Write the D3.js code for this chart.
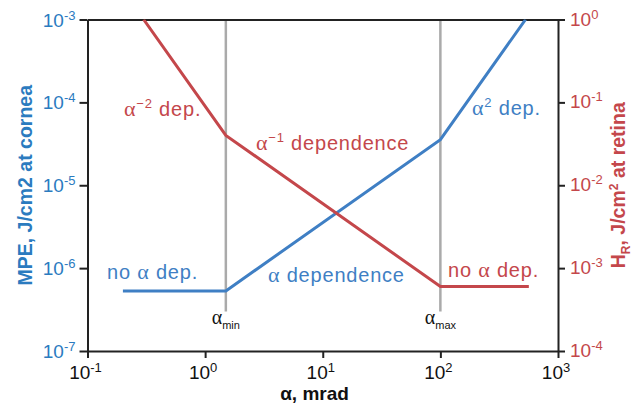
<!DOCTYPE html>
<html>
<head>
<meta charset="utf-8">
<script src="https://cdn.jsdelivr.net/npm/d3@7"></script>
<style>
  body { margin: 0; background: #fff; }
  svg { font-family: "Liberation Sans", Arial, sans-serif; }
</style>
</head>
<body>
<div id="chart"></div>
<script>
// tick values
var xTicks = [0.1, 1, 10, 100, 1000];
var mpeTicks = [1e-7, 1e-6, 1e-5, 1e-4, 1e-3];
var hrTicks = [1e-4, 1e-3, 1e-2, 1e-1, 1];

// alpha_min and alpha_max (mrad)
var alphaLimits = [1.5, 100];
var alphaLimitNames = ["min", "max"];

// MPE at cornea (left axis)
var mpeAlpha = [0.2, 1.5, 100, 530];
var mpeValues = [5.3e-7, 5.3e-7, 3.55e-5, 1e-3];

// H_R at retina (right axis)
var hrAlpha = [0.3, 1.5, 100, 565];
var hrValues = [1, 0.04, 6e-4, 6e-4];

var blue = "#3f7fc4", red = "#c4474b";
var blueText = "#2b7bbf", redText = "#c4474b";

var W = 634, H = 406;
var margin = {top: 19.5, right: 76, bottom: 55, left: 87.5},
    width = W - margin.left - margin.right,
    height = H - margin.top - margin.bottom;

var x = d3.scaleLog().domain([0.1, 1000]).range([0, width]);
var yL = d3.scaleLog().domain([1e-7, 1e-3]).range([height, 0]);
var yR = d3.scaleLog().domain([1e-4, 1]).range([height, 0]);

var svg = d3.select("#chart").append("svg")
    .attr("width", W)
    .attr("height", H)
    .append("g")
    .attr("transform", "translate(" + margin.left + "," + margin.top + ")");

function powLabel(sel, v) {
    var e = Math.round(Math.log10(v));
    sel.append("tspan").text("10");
    sel.append("tspan")
        .attr("dy", -7)
        .style("font-size", "13px")
        .text(e);
}

// vertical alpha limit lines
svg.selectAll(".limit")
    .data(alphaLimits)
    .enter().append("line")
    .attr("class", "limit")
    .attr("x1", function(d) { return x(d); })
    .attr("x2", function(d) { return x(d); })
    .attr("y1", 0)
    .attr("y2", 292)
    .attr("stroke", "#aaaaaa")
    .attr("stroke-width", 2.5);

svg.selectAll(".limitLabel")
    .data(alphaLimits)
    .enter().append("text")
    .attr("class", "limitLabel")
    .attr("x", function(d) { return x(d); })
    .attr("y", 304)
    .attr("text-anchor", "middle")
    .attr("fill", "#111")
    .each(function(d, i) {
        var t = d3.select(this);
        t.append("tspan").style("font-family", "'Liberation Serif', serif").style("font-size", "20px").text("α");
        t.append("tspan").attr("dy", 5).style("font-size", "11px").text(alphaLimitNames[i]);
    });

// axes
var axisStyle = function(g) {
    g.select(".domain").attr("stroke", "#222").attr("stroke-width", 2);
    g.selectAll(".tick line").attr("stroke", "#222").attr("stroke-width", 2);
    g.selectAll(".tick text").remove();
};

svg.append("g")
    .attr("transform", "translate(0," + height + ")")
    .call(d3.axisBottom(x).tickValues(xTicks).tickSize(7).tickSizeOuter(0))
    .call(axisStyle);

svg.append("g")
    .call(d3.axisTop(x).tickValues([]).tickSizeOuter(0))
    .call(axisStyle);

svg.append("g")
    .call(d3.axisLeft(yL).tickValues(mpeTicks).tickSize(8).tickSizeOuter(0))
    .call(axisStyle);

svg.append("g")
    .attr("transform", "translate(" + width + ",0)")
    .call(d3.axisRight(yR).tickValues(hrTicks).tickSize(7).tickSizeOuter(0))
    .call(axisStyle);

// tick labels
svg.selectAll(".xlab")
    .data(xTicks)
    .enter().append("text")
    .attr("class", "xlab")
    .attr("x", function(d) { return x(d) - 2; })
    .attr("y", height + 28)
    .attr("text-anchor", "middle")
    .style("font-size", "19px")
    .attr("fill", "#111")
    .each(function(d) { powLabel(d3.select(this), d); });

svg.selectAll(".ylabL")
    .data(mpeTicks)
    .enter().append("text")
    .attr("class", "ylabL")
    .attr("x", -12)
    .attr("y", function(d) { return yL(d) + 7; })
    .attr("text-anchor", "end")
    .style("font-size", "19px")
    .attr("fill", blueText)
    .each(function(d) { powLabel(d3.select(this), d); });

svg.selectAll(".ylabR")
    .data(hrTicks)
    .enter().append("text")
    .attr("class", "ylabR")
    .attr("x", width + 12)
    .attr("y", function(d) { return yR(d) + 6; })
    .style("font-size", "19px")
    .attr("fill", redText)
    .each(function(d) { powLabel(d3.select(this), d); });

// axis titles
svg.append("text")
    .attr("x", 227)
    .attr("y", height + 49)
    .attr("text-anchor", "middle")
    .style("font-size", "19px")
    .style("font-weight", "bold")
    .attr("fill", "#111")
    .text("α, mrad");

svg.append("text")
    .attr("transform", "translate(" + (-56) + "," + (height / 2) + ") rotate(-90)")
    .attr("text-anchor", "middle")
    .style("font-size", "19.5px")
    .style("font-weight", "bold")
    .attr("fill", blueText)
    .text("MPE, J/cm2 at cornea");

var rt = svg.append("text")
    .attr("transform", "translate(" + (width + 67) + "," + (height / 2) + ") rotate(-90)")
    .attr("text-anchor", "middle")
    .style("font-size", "19.5px")
    .style("font-weight", "bold")
    .attr("fill", redText);
rt.append("tspan").text("H");
rt.append("tspan").attr("dy", 5).style("font-size", "12px").text("R");
rt.append("tspan").attr("dy", -5).text(", J/cm");
rt.append("tspan").attr("dy", -7).style("font-size", "12px").text("2");
rt.append("tspan").attr("dy", 7).text(" at retina");

// curves
svg.append("clipPath").attr("id", "plotClip")
    .append("rect").attr("width", width).attr("height", height);

var lineL = d3.line()
    .x(function(d) { return x(d[0]); })
    .y(function(d) { return yL(d[1]); });
var lineR = d3.line()
    .x(function(d) { return x(d[0]); })
    .y(function(d) { return yR(d[1]); });

svg.append("path")
    .datum(d3.zip(mpeAlpha, mpeValues))
    .attr("clip-path", "url(#plotClip)")
    .attr("fill", "none")
    .attr("stroke", blue)
    .attr("stroke-width", 3)
    .attr("d", lineL);

svg.append("path")
    .datum(d3.zip(hrAlpha, hrValues))
    .attr("clip-path", "url(#plotClip)")
    .attr("fill", "none")
    .attr("stroke", red)
    .attr("stroke-width", 3)
    .attr("d", lineR);

// annotations
function note(px, py, color, parts) {
    var t = svg.append("text")
        .attr("x", px - margin.left)
        .attr("y", py - margin.top)
        .style("font-size", "20px")
        .style("letter-spacing", "0.8px")
        .attr("fill", color);
    parts.forEach(function(p) {
        var s = t.append("tspan").text(p.t);
        if (p.greek) s.style("font-family", "'Liberation Serif', serif").style("font-size", "22px");
        if (p.sup) s.attr("dy", -8).style("font-size", "13px");
        if (p.after) s.attr("dy", 8);
    });
}

note(124, 116, redText, [{t: "α", greek: true}, {t: "−2", sup: true}, {t: " dep.", after: true}]);
note(256, 150, redText, [{t: "α", greek: true}, {t: "−1", sup: true}, {t: " dependence", after: true}]);
note(472, 115, blue, [{t: "α", greek: true}, {t: "2", sup: true}, {t: " dep.", after: true}]);
note(107, 279, blue, [{t: "no "}, {t: "α", greek: true}, {t: " dep."}]);
note(268, 282, blue, [{t: "α", greek: true}, {t: " dependence"}]);
note(448, 277, redText, [{t: "no "}, {t: "α", greek: true}, {t: " dep."}]);
</script>
</body>
</html>
